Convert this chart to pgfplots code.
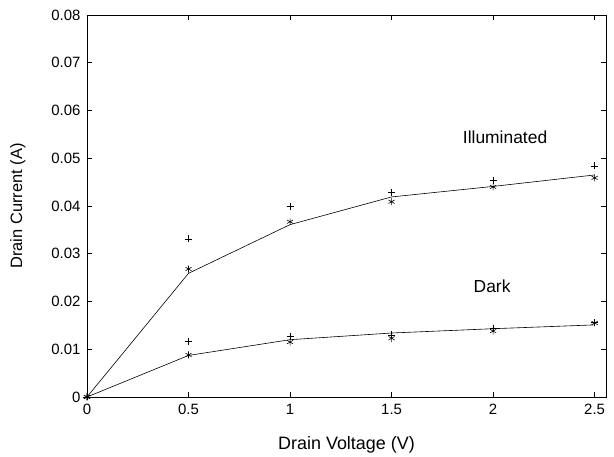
\documentclass[border=0pt]{standalone}
\usepackage{pgfplots}
\pgfplotsset{compat=1.18}
\usepackage{fontspec}
\setmainfont{Liberation Sans}
\begin{document}
\begin{tikzpicture}
\begin{axis}[
  name=ax,
  scale only axis,
  width=519bp, height=382bp,
  xmin=0, xmax=2.556, ymin=0, ymax=0.08,
  xtick={0,0.5,1,1.5,2,2.5},
  xticklabels={0,0.5,1,1.5,2,2.5},
  ytick={0,0.01,0.02,0.03,0.04,0.05,0.06,0.07,0.08},
  yticklabels={0,0.01,0.02,0.03,0.04,0.05,0.06,0.07,0.08},
  scaled y ticks=false,
  tick align=inside,
  major tick length=5bp,
  axis line style={line width=0.8pt},
  tick style={black, line width=0.6pt},
  ticklabel style={font=\fontsize{15}{17}\selectfont},
  xticklabel style={yshift=-4bp},
  yticklabel style={xshift=-3bp},
  xlabel={Drain Voltage (V)},
  ylabel={Drain Current (A)},
  xlabel style={font=\fontsize{18}{20}\selectfont, at={(axis description cs:0.5,-0.1257)}, anchor=center},
  ylabel style={font=\fontsize{16.5}{19}\selectfont, at={(axis description cs:-0.133,0.5)}, anchor=center},
  clip=false,
]
% Illuminated fitted line
\addplot[black, line width=0.6pt, mark=none] coordinates {
(0,0) (0.5,0.0259) (1,0.0361) (1.5,0.0419) (2,0.0441) (2.5,0.0465)};
% Illuminated stars
\addplot[black, only marks, mark=asterisk, mark size=3.5bp, line width=0.6pt] coordinates {
(0,0) (0.5,0.0268) (1,0.0367) (1.5,0.0409) (2,0.0440) (2.5,0.0459)};
% Illuminated plus
\addplot[black, only marks, mark=+, mark size=3.5bp, line width=0.5pt] coordinates {
(0,0) (0.5,0.0331) (1,0.0399) (1.5,0.0428) (2,0.0454) (2.5,0.0484)};
% Dark fitted line
\addplot[black, line width=0.6pt, mark=none] coordinates {
(0,0) (0.5,0.0087) (1,0.0120) (1.5,0.0134) (2,0.0143) (2.5,0.0151)};
% Dark stars
\addplot[black, only marks, mark=asterisk, mark size=3.5bp, line width=0.6pt] coordinates {
(0,0) (0.5,0.0088) (1,0.0115) (1.5,0.0123) (2,0.0138) (2.5,0.0155)};
% Dark plus
\addplot[black, only marks, mark=+, mark size=3.5bp, line width=0.5pt] coordinates {
(0,0) (0.5,0.0116) (1,0.0127) (1.5,0.0130) (2,0.0144) (2.5,0.0156)};
\node[font=\fontsize{17.5}{20}\selectfont] at (axis cs:2.059,0.0544) {Illuminated};
\node[font=\fontsize{17.5}{20}\selectfont] at (axis cs:1.995,0.0231) {Dark};
\end{axis}
\pgfresetboundingbox
\path ([xshift=-87bp,yshift=-60bp]ax.south west) rectangle ([xshift=8bp,yshift=15bp]ax.north east);
\end{tikzpicture}
\end{document}
